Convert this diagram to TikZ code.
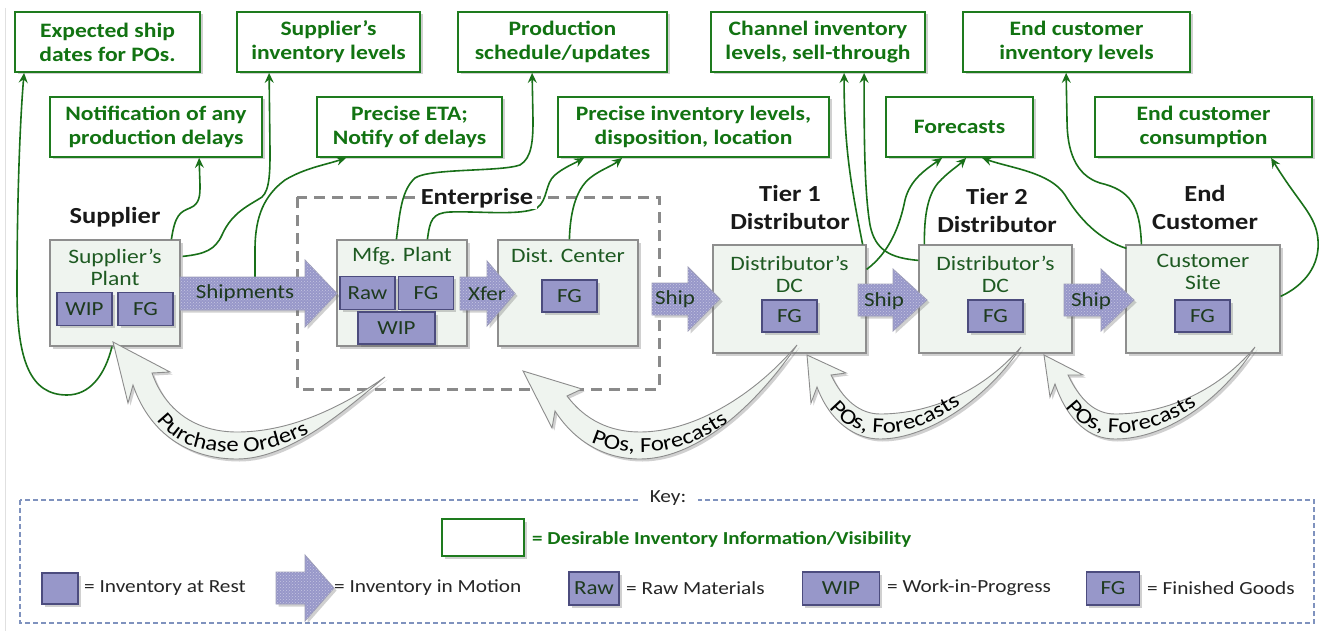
\documentclass[tikz,border=0pt]{standalone}
\usepackage{fontspec}
\setmainfont{Carlito}[FakeStretch=1.15]
\usetikzlibrary{arrows.meta,patterns,shadows,decorations.text,calc}
\definecolor{gboxc}{HTML}{1E7B1E}
\definecolor{gtext}{HTML}{127312}
\definecolor{ptext}{HTML}{1E5A22}
\definecolor{plantfill}{HTML}{EFF4EF}
\definecolor{plantdraw}{HTML}{8E8E8E}
\definecolor{invfill}{HTML}{9797C9}
\definecolor{invdraw}{HTML}{4C4C7E}
\definecolor{invtext}{HTML}{1E3A1E}
\definecolor{keyc}{HTML}{7F92BE}
\definecolor{curvec}{HTML}{197019}
\definecolor{entc}{HTML}{8A8A8A}
\newcommand\curvefont{\fontsize{21.5}{23}\selectfont}
\newcommand\blockarr[6]{% tail x, head base x, tip x, cy, shaft half, head half
  \path[blockarrow] (#1,#4-#5) -- (#2,#4-#5) -- (#2,#4-#6) -- (#3,#4) -- (#2,#4+#6) -- (#2,#4+#5) -- (#1,#4+#5) -- cycle;}
\begin{document}
\begin{tikzpicture}[x=1pt,y=-1pt,
  shd/.style={drop shadow={shadow xshift=2.5pt,shadow yshift=-2.5pt,opacity=0.3,fill=black!60}},
  infobox/.style={shd,draw=gboxc,line width=1.8pt,fill=white,align=center,text=gtext,
    font=\bfseries\fontsize{20.5}{24}\selectfont,inner sep=0pt,minimum height=60pt},
  plant/.style={shd,draw=plantdraw,line width=1.2pt,fill=plantfill,inner sep=0pt},
  planttxt/.style={align=center,text=ptext,font=\fontsize{20.5}{22}\selectfont,inner sep=0pt},
  inv/.style={shd,draw=invdraw,line width=1.2pt,fill=invfill,text=invtext,
    font=\fontsize{20}{22}\selectfont,inner sep=0pt,minimum height=33pt},
  blockarrow/.style={shd,fill=invfill,draw=invdraw!55,line width=0.8pt,
    postaction={pattern=crosshatch dots,pattern color=white!45!invfill}},
  arrtxt/.style={text=invtext,font=\fontsize{20}{22}\selectfont,inner sep=0pt},
  blab/.style={align=center,font=\bfseries\fontsize{23}{28}\selectfont,text=black!90,inner sep=1pt},
  gcurve/.style={shd,fill=plantfill,draw=black!45,line width=0.9pt},
  conn/.style={draw=curvec,line width=1.6pt,-{Stealth[length=10pt,width=9pt,inset=3.5pt]}},
  entbox/.style={draw=entc,line width=3pt,dash pattern=on 11pt off 7pt},
  keyline/.style={draw=keyc,line width=1.2pt,dash pattern=on 5pt off 3pt},
  keytxt/.style={anchor=west,text=black!85,font=\fontsize{18.5}{20}\selectfont,inner sep=0pt}
]
\useasboundingbox (0,0) rectangle (1321,631);
\fill[white] (0,0) rectangle (1321,631);
\draw[black!12,line width=1pt] (5,8) -- (5,631);

% enterprise boundary
\draw[entbox] (297,197) rectangle (659,389);

% information boxes
\node[infobox,minimum width=185pt] (e1) at (107.5,42) {Expected ship\\dates for POs.};
\node[infobox,minimum width=183pt] (e2) at (328.5,42) {Supplier’s\\inventory levels};
\node[infobox,minimum width=209pt] (e3) at (562.5,42) {Production\\schedule/updates};
\node[infobox,minimum width=214pt] (e4) at (818,42) {Channel inventory\\levels, sell-through};
\node[infobox,minimum width=227pt] (e5) at (1076.5,42) {End customer\\inventory levels};
\node[infobox,minimum width=212pt] (f1) at (156,127) {Notification of any\\production delays};
\node[infobox,minimum width=185pt] (f2) at (409.5,127) {Precise ETA;\\Notify of delays};
\node[infobox,minimum width=271pt] (f3) at (693.5,127) {Precise inventory levels,\\disposition, location};
\node[infobox,minimum width=147pt] (f4) at (959.5,127) {Forecasts};
\node[infobox,minimum width=217pt] (f5) at (1203.5,127) {End customer\\consumption};

% plant boxes
\node[plant,minimum width=130pt,minimum height=106pt] (p1) at (115,293) {};
\node[plant,minimum width=130pt,minimum height=106pt] (p2) at (402,293) {};
\node[plant,minimum width=140pt,minimum height=106pt] (p3) at (568,293) {};
\node[plant,minimum width=153pt,minimum height=108pt] (p4) at (789.5,299) {};
\node[plant,minimum width=153pt,minimum height=108pt] (p5) at (995.5,299) {};
\node[plant,minimum width=154pt,minimum height=108pt] (p6) at (1203,299) {};
\coordinate (shtop) at (255,277);

% green connectors
\draw[conn] ([xshift=-3pt]p1.south) .. controls (105,375) and (90,395) .. (67,395)
  .. controls (30,395) and (17,360) .. (17,290) .. controls (17,200) and (20,120) .. ($(e1.south west)+(10,0)$);
\draw[conn] ($(p1.north west)+(122,0)$) .. controls (175,215) and (180,212) .. (190,208)
  .. controls (200,204) and (200,195) .. (200,185) -- ($(f1.south west)+(150,0)$);
\draw[conn] ($(p1.north east)+(2,17)$) .. controls (205,254) and (215,250) .. (222,235)
  .. controls (232,212) and (250,205) .. (262,197) .. controls (270,190) and (270,170) .. (270,150) -- ($(e2.south west)+(33,0)$);
\draw[conn] (shtop) -- (255,250) .. controls (255,215) and (265,195) .. (285,180)
  .. controls (305,168) and (325,165) .. ($(f2.south west)+(30,0)$);
\draw[conn] ($(p2.north west)+(60,0)$) .. controls (400,210) and (402,190) .. (415,178)
  .. controls (430,168) and (500,172) .. (520,165) .. controls (532,158) and (533,140) .. (533,120) -- ($(e3.south west)+(75,0)$);
\draw[conn] ($(p2.north west)+(91,0)$) .. controls (430,220) and (432,213) .. (450,212)
  .. controls (480,211) and (520,216) .. (537,208) .. controls (548,200) and (545,183) .. (555,175)
  .. controls (563,168) and (575,163) .. ($(f3.south west)+(27,0)$);
\draw[conn] ($(p3.north west)+(72,0)$) .. controls (570,215) and (575,190) .. (590,178)
  .. controls (600,170) and (612,166) .. ($(f3.south west)+(65,0)$);
\draw[conn] ($(p4.north east)+(-4,0)$) .. controls (852,190) and (844,150) .. ($(e4.south west)+(134,0)$);
\draw[conn] ($(p5.north west)+(0,16)$) .. controls (890,258) and (875,250) .. (870,225)
  .. controls (865,195) and (864,150) .. ($(e4.south west)+(154,0)$);
\draw[conn] ($(p4.north east)+(0,25)$) .. controls (890,252) and (900,225) .. (905,200)
  .. controls (910,180) and (925,170) .. ($(f4.south west)+(57,0)$);
\draw[conn] ($(p5.north west)+(6,0)$) .. controls (924,215) and (928,195) .. (938,183)
  .. controls (948,172) and (958,166) .. ($(f4.south west)+(81,0)$);
\draw[conn] ($(p6.north west)+(1,4)$) .. controls (1100,240) and (1080,220) .. (1065,195)
  .. controls (1050,172) and (1010,168) .. ($(f4.south west)+(97,0)$);
\draw[conn] ($(p6.north west)+(16,0)$) .. controls (1140,205) and (1130,190) .. (1100,183)
  .. controls (1075,175) and (1067,150) .. (1067,120) -- ($(e5.south west)+(104,0)$);
\draw[conn] ($(p6.north east)+(0,52)$) .. controls (1305,285) and (1320,265) .. (1318,240)
  .. controls (1316,215) and (1300,205) .. ($(f5.south west)+(177,0)$);

% plant texts
\node[planttxt] (p1t) at (115,267) {Supplier’s\\Plant};
\node[planttxt] (p2t) at (402,256) {Mfg. Plant};
\node[planttxt] (p3t) at (568,256) {Dist. Center};
\node[planttxt] (p4t) at (789.5,274) {Distributor’s\\DC};
\node[planttxt] (p5t) at (995.5,274) {Distributor’s\\DC};
\node[planttxt] (p6t) at (1203,272) {Customer\\Site};

% inventory boxes
\node[inv,minimum width=55pt] (s1) at (84.5,309) {WIP};
\node[inv,minimum width=55pt] (s2) at (145.5,309) {FG};
\node[inv,minimum width=55pt] (m1) at (367.5,293) {Raw};
\node[inv,minimum width=55pt] (m2) at (426,293) {FG};
\node[inv,minimum width=77pt,minimum height=32pt] (m3) at (396.5,328) {WIP};
\node[inv,minimum width=55pt,minimum height=32pt] (d1) at (569.5,296) {FG};
\node[inv,minimum width=55pt,minimum height=32pt] (t1) at (789.5,316) {FG};
\node[inv,minimum width=55pt,minimum height=32pt] (t2) at (995.5,316) {FG};
\node[inv,minimum width=55pt,minimum height=32pt] (c1) at (1202.5,316) {FG};

% block arrows (inventory in motion)
\blockarr{180}{305}{337}{293.5}{16.5}{33.5}
\blockarr{460}{487}{515}{293.5}{16.5}{32.5}
\blockarr{652}{688}{720}{299}{16}{32}
\blockarr{858}{893}{927}{300}{16}{31}
\blockarr{1064}{1101}{1134}{300}{16}{31}
\node[arrtxt] (shp) at (245,293.5) {Shipments};
\node[arrtxt] (xf) at (487,294) {Xfer};
\node[arrtxt] (sh1) at (675,299) {Ship};
\node[arrtxt] (sh2) at (884,301) {Ship};
\node[arrtxt] (sh3) at (1091,301) {Ship};

% curved order arrows
\path[gcurve] (113,342) -- (128,403) -- (133,385) .. controls (150,435) and (190,459) .. (237,459)
  .. controls (290,459) and (345,410) .. (385,377) .. controls (335,412) and (285,432) .. (237,432)
  .. controls (195,432) and (165,410) .. (152,373) -- (170,372) -- cycle;
\path[gcurve] (523,371) -- (552,428) -- (555,411) .. controls (575,442) and (605,459) .. (640,459)
  .. controls (700,459) and (760,400) .. (797,345) .. controls (750,400) and (690,432) .. (640,432)
  .. controls (610,432) and (585,420) .. (567,396) -- (582,389) -- cycle;
\path[gcurve] (807,355) -- (811,403) -- (817,387) .. controls (830,422) and (855,439) .. (880,439)
  .. controls (930,439) and (990,395) .. (1021,347) .. controls (980,395) and (925,414) .. (880,414)
  .. controls (860,414) and (843,400) .. (831,375) -- (846,373) -- cycle;
\path[gcurve] (1044,355) -- (1050,397) -- (1055,384) .. controls (1068,422) and (1090,439) .. (1115,439)
  .. controls (1170,439) and (1225,395) .. (1255,347) .. controls (1215,395) and (1160,414) .. (1115,414)
  .. controls (1095,414) and (1080,400) .. (1068,375) -- (1083,375) -- cycle;
\path[decorate,decoration={text along path,text={|\curvefont|Purchase Orders},text align=center}]
  (141,390) .. controls (160,443) and (195,452) .. (237,452) .. controls (277,452) and (310,435) .. (338,414);
\path[decorate,decoration={text along path,text={|\curvefont|POs, Forecasts},text align=center}]
  (558,414) .. controls (580,446) and (610,452) .. (645,452) .. controls (690,452) and (730,425) .. (762,393);
\path[decorate,decoration={text along path,text={|\curvefont|POs, Forecasts},text align=center}]
  (814,381) .. controls (830,422) and (855,433) .. (882,433) .. controls (918,433) and (955,412) .. (985,384);
\path[decorate,decoration={text along path,text={|\curvefont|POs, Forecasts},text align=center}]
  (1051,378) .. controls (1066,422) and (1090,433) .. (1117,433) .. controls (1153,433) and (1195,412) .. (1222,384);

% black labels
\node[blab] (lsup) at (115,217) {Supplier};
\node[blab,fill=white,inner xsep=4pt] (lent) at (477,198) {Enterprise};
\node[blab] (lt1) at (790,208) {Tier 1\\Distributor};
\node[blab] (lt2) at (997,211) {Tier 2\\Distributor};
\node[blab] (lec) at (1205,208) {End\\Customer};

% key
\draw[keyline] (20,500) rectangle (1314,623);
\node[fill=white,text=black!85,font=\fontsize{18.5}{20}\selectfont,inner xsep=12pt,inner ysep=2pt] (keyl) at (668,498) {Key:};
\node[infobox,minimum width=82pt,minimum height=37pt] (k1) at (483,537.5) {};
\node[anchor=west,text=gtext,font=\bfseries\fontsize{18.3}{20}\selectfont,inner sep=0pt] (k1t) at (532,539) {= Desirable Inventory Information/Visibility};
\node[inv,minimum width=36pt,minimum height=31pt] (k2) at (60,588.5) {};
\node[keytxt] (k2t) at (84,588) {= Inventory at Rest};
\blockarr{276}{305}{334}{588}{16}{33}
\node[keytxt] (k3t) at (334,588) {= Inventory in Motion};
\node[inv,minimum width=50pt] (k4) at (594,588.5) {Raw};
\node[keytxt] (k4t) at (626,588) {= Raw Materials};
\node[inv,minimum width=77pt] (k5) at (841,588.5) {WIP};
\node[keytxt] (k5t) at (887,588) {= Work-in-Progress};
\node[inv,minimum width=53pt] (k6) at (1113,588.5) {FG};
\node[keytxt] (k6t) at (1147,588) {= Finished Goods};
\end{tikzpicture}
\end{document}
